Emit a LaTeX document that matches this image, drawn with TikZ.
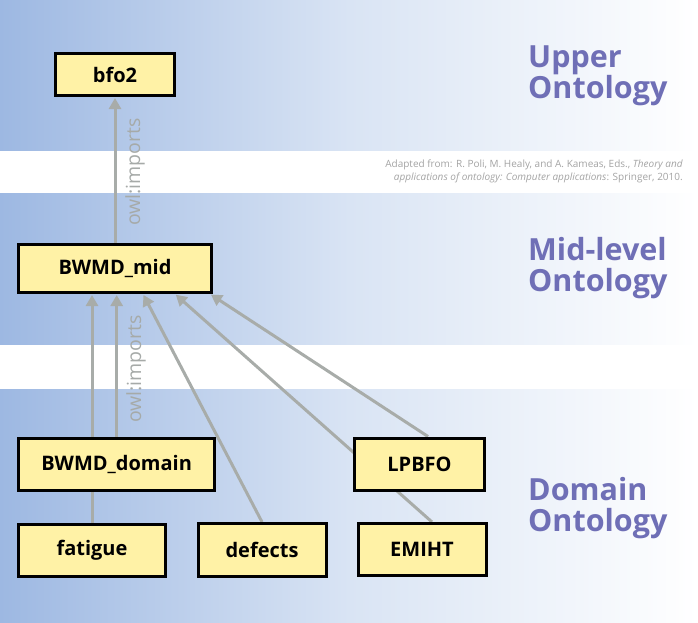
\documentclass[tikz,border=0pt]{standalone}
\usepackage{fontspec}
\setmainfont{Open Sans}
\usetikzlibrary{arrows.meta,calc}
\definecolor{bandL}{HTML}{9DB8E2}
\definecolor{bandM}{HTML}{D9E4F4}
\definecolor{nodefill}{HTML}{FFF2A6}
\definecolor{edgegray}{HTML}{A8ACA9}
\definecolor{labelgray}{HTML}{A6AAA8}
\definecolor{citegray}{HTML}{A3A3A3}
\definecolor{titlecol}{HTML}{6F6FB6}
\pgfdeclarelayer{bg}
\pgfdeclarelayer{edges}
\pgfsetlayers{bg,edges,main}
\tikzset{
  box/.style={draw=black, line width=3pt, fill=nodefill, inner sep=0pt,
    font=\bfseries\fontsize{20}{23}\selectfont},
  imp/.style={draw=edgegray, line width=3pt, -{Triangle[length=11pt,width=12pt]}, shorten >=1pt},
  band/.style={left color=bandL, right color=white, middle color=bandM, draw=none},
  title/.style={anchor=west, align=left, text=titlecol, inner sep=0pt,
    font=\bfseries\fontsize{30.5}{31}\selectfont},
  owl/.style={text=labelgray, rotate=90, inner sep=0pt, font=\fontsize{19.5}{22}\selectfont},
}
\begin{document}
\begin{tikzpicture}[x=1pt,y=-1pt]
\useasboundingbox (0,0) rectangle (698,622);
% nodes
\node[box, minimum width=119, minimum height=42] (bfo2) at (115,74.5) {bfo2};
\node[box, minimum width=193, minimum height=48] (mid) at (115,268.5) {BWMD\_mid};
\node[box, minimum width=196, minimum height=52] (domain) at (116.7,464) {BWMD\_domain};
\node[box, minimum width=147, minimum height=52] (fatigue) at (92,550) {fatigue};
\node[box, minimum width=128, minimum height=53] (defects) at (262,550) {defects};
\node[box, minimum width=130, minimum height=52] (lpbfo) at (419.5,464) {LPBFO};
\node[box, minimum width=128, minimum height=52] (emiht) at (422,549.5) {EMIHT};
% titles
\node[title] (t1) at (528,76) {Upper\\Ontology};
\node[title] (t2) at (528,268) {Mid-level\\Ontology};
\node[title] (t3) at (528,508) {Domain\\Ontology};
% citation
\node[anchor=east, align=right, text=citegray, inner sep=0pt,
  font=\fontsize{10}{13}\selectfont] (cite) at (683,171)
  {Adapted from: R. Poli, M. Healy, and A. Kameas, Eds., \textit{Theory and}\\
   \textit{applications of ontology: Computer applications}: Springer, 2010.};
% owl labels
\node[owl] (o1) at (135,172) {owl:imports};
\node[owl] (o2) at (136,369) {owl:imports};
\begin{pgfonlayer}{bg}
  \fill[band] (0,0) rectangle (698,150);
  \fill[band] (0,193) rectangle (698,344);
  \fill[band] (0,389) rectangle (698,622);
\end{pgfonlayer}
\begin{pgfonlayer}{edges}
  \draw[imp] (mid.north) -- (bfo2.south);
  \draw[imp] (fatigue.north) -- (mid.south -| fatigue.north);
  \draw[imp] (domain.north) -- (mid.south -| domain.north);
  \draw[imp] (defects.north) -- ($(mid.south)+(28,0)$);
  \draw[imp] ($(emiht.north)+(10,0)$) -- ($(mid.south)+(60,0)$);
  \draw[imp] ($(lpbfo.north)+(8.5,0)$) -- ($(mid.south)+(95,0)$);
\end{pgfonlayer}
\end{tikzpicture}
\end{document}
